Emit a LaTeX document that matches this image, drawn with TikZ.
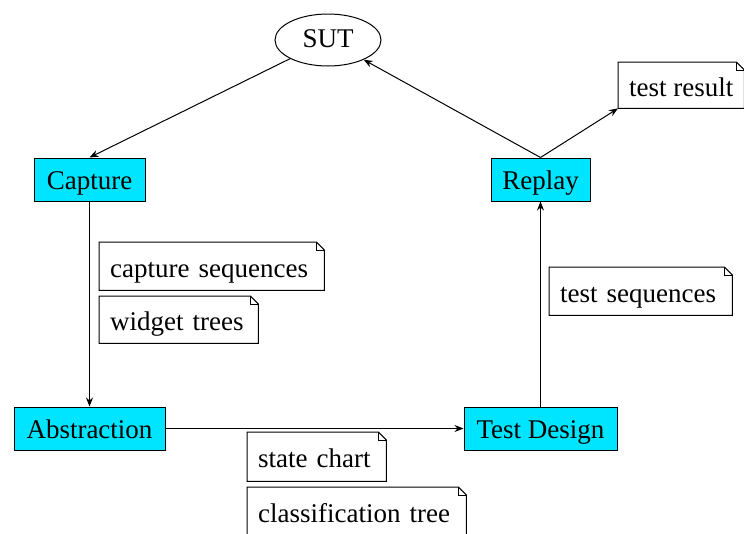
\documentclass[tikz,border=0pt]{standalone}
\usepackage{fontspec}
\setmainfont{Liberation Serif}
\usetikzlibrary{arrows.meta, positioning, shapes.geometric, calc}
\definecolor{stagecyan}{HTML}{00E5FF}

% folded-corner outline round a note node
\newcommand{\dogear}[1]{%
  \draw[notefold] (#1.south west) -- (#1.north west) -- ($(#1.north east)+(-8,0)$)
    -- ($(#1.north east)+(0,8)$) -- (#1.south east) -- cycle;
  \draw[notefold] ($(#1.north east)+(-8,0)$) -- ++(0,8) -- ++(8,0);
}

\tikzset{
  stage/.style={draw, fill=stagecyan, minimum height=43pt, inner sep=0pt, line width=1pt,
    text height=24.6pt, text depth=5pt},
  notebox/.style={anchor=north west, inner xsep=11pt, inner ysep=0pt, minimum height=48pt, align=left,
    text height=27pt, text depth=4.5pt},
  notefold/.style={line width=1pt},
  flow/.style={-{Stealth[length=9pt,width=7pt]}, line width=1pt}
}

\begin{document}
\begin{tikzpicture}[x=1pt, y=-1pt, font=\fontsize{27}{32}\selectfont]
    \useasboundingbox (0,0) rectangle (744,533);
    \node[draw, ellipse, minimum width=106pt, minimum height=52pt, inner sep=0pt, line width=1pt,
      text height=22pt, text depth=6.6pt] (sut) at (328,40) {SUT};
    \node[stage, minimum width=111pt] (capture) at (89.5,179.5) {Capture};
    \node[stage, minimum width=99pt] (replay) at (540.5,179.5) {Replay};
    \node[stage, minimum width=151pt] (abstraction) at (89.5,428.5) {Abstraction};
    \node[stage, minimum width=153pt] (testdesign) at (540.5,428.5) {Test Design};

    % artefacts passed between the stages
    \node[notebox, text width=203pt] (captureseq) at (99,242) {capture sequences};
    \node[notebox, text width=137pt, minimum height=47pt] (widgettrees) at (99,296) {widget trees};
    \node[notebox, text width=161pt] (testseq) at (549,267) {test sequences};
    \node[notebox, text width=117pt, minimum height=49pt] (statechart) at (247,432) {state chart};
    \node[notebox, text width=197pt] (classtree) at (247,487) {classification tree};
    \node[notebox, inner xsep=9pt, minimum width=126pt, minimum height=46pt] (testresult) at (618,62) {test result};
    \foreach \n in {captureseq, widgettrees, testseq, statechart, classtree, testresult}{
        \dogear{\n}
    }

    \draw[flow] (sut) -- (capture.north);
    \draw[flow] (capture) -- (abstraction);
    \draw[flow] (abstraction) -- (testdesign);
    \draw[flow] (testdesign) -- (replay);
    \draw[flow] (replay.north) -- (sut);
    \draw[flow] (replay.north) -- (testresult.south west);
\end{tikzpicture}
\end{document}
